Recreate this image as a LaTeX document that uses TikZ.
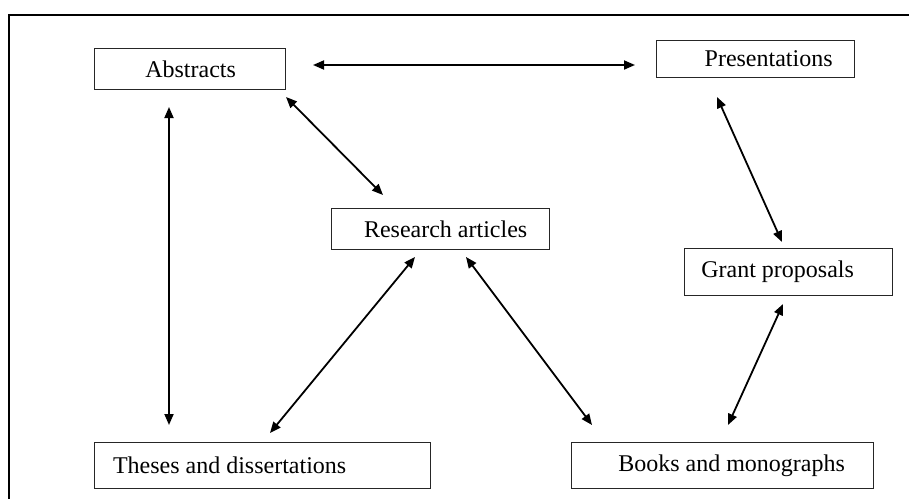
\documentclass[tikz,border=0pt]{standalone}
\usepackage{fontspec}
\setmainfont{Liberation Serif}
\usetikzlibrary{arrows.meta}
\begin{document}
\begin{tikzpicture}[x=1pt,y=-1pt,
  box/.style={draw=black!85,line width=1.3pt,rectangle,inner sep=0pt,anchor=north west,
    font=\fontsize{24}{28}\selectfont},
  link/.style={line width=1.8pt,{Triangle[length=11pt,width=9pt]}-{Triangle[length=11pt,width=9pt]}}]
\useasboundingbox (0,0) rectangle (909,498);
\draw[line width=2pt] (9,505) -- (9,15) -- (915,15);
\node[box,minimum width=191pt,minimum height=41pt] (abs) at (94,48) {\hspace*{1pt}Abstracts};
\node[box,minimum width=198pt,minimum height=37pt] (pres) at (656,40) {\hspace*{26pt}Presentations};
\node[box,minimum width=218pt,minimum height=41pt] (res) at (331,208) {\hspace*{10pt}Research articles};
\node[box,minimum width=208pt,minimum height=47pt] (grant) at (684,248) {Grant proposals\hspace*{22pt}};
\node[box,minimum width=336pt,minimum height=46pt] (thes) at (94,442) {Theses and dissertations\hspace*{66pt}};
\node[box,minimum width=302pt,minimum height=46pt] (books) at (571,442) {\hspace*{18pt}Books and monographs};
\coordinate (a1) at (313,65); \coordinate (a2) at (635,65);
\coordinate (b1) at (169,107); \coordinate (b2) at (169,425);
\coordinate (c1) at (286,97); \coordinate (c2) at (383,195);
\coordinate (d1) at (415,257); \coordinate (d2) at (270,433);
\coordinate (e1) at (466,257); \coordinate (e2) at (592,425);
\coordinate (f1) at (717,97); \coordinate (f2) at (782,242);
\coordinate (g1) at (783,304); \coordinate (g2) at (728,425);
\draw[link] (a1) -- (a2);
\draw[link] (b1) -- (b2);
\draw[link] (c1) -- (c2);
\draw[link] (d1) -- (d2);
\draw[link] (e1) -- (e2);
\draw[link] (f1) -- (f2);
\draw[link] (g1) -- (g2);
\end{tikzpicture}
\end{document}
